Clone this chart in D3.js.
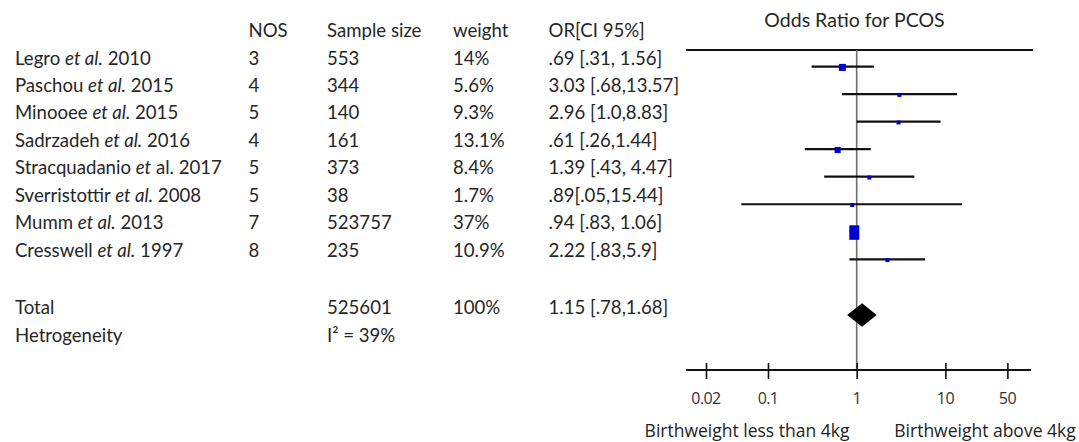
<!DOCTYPE html>
<html><head><meta charset="utf-8">
<script src="https://cdn.jsdelivr.net/npm/d3@7"></script>
<style>
html,body{margin:0;padding:0;background:#fff;}
svg{display:block;}
</style></head>
<body>
<script>
// ---- data ----
const studies = ["Legro _et al._ 2010","Paschou _et al._ 2015","Minooee _et al._ 2015","Sadrzadeh _et al._ 2016","Stracquadanio _et_ al. 2017","Sverristottir _et al._ 2008","Mumm _et al._ 2013","Cresswell _et al._ 1997"];
const nos = [3,4,5,4,5,5,7,8];
const sampleSize = [553,344,140,161,373,38,523757,235];
const weightPct = [14,5.6,9.3,13.1,8.4,1.7,37,10.9];
const weightLabels = ["14%","5.6%","9.3%","13.1%","8.4%","1.7%","37%","10.9%"];
const orValue = [0.69,3.03,2.96,0.61,1.39,0.89,0.94,2.22];
const ciLow = [0.31,0.68,1.0,0.26,0.43,0.05,0.83,0.83];
const ciHigh = [1.56,13.57,8.83,1.44,4.47,15.44,1.06,5.9];
const orLabels = [".69 [.31, 1.56]","3.03 [.68,13.57]","2.96 [1.0,8.83]",".61 [.26,1.44]","1.39 [.43, 4.47]",".89[.05,15.44]",".94 [.83, 1.06]","2.22 [.83,5.9]"];
const headers = ["NOS","Sample size","weight","OR[CI 95%]"];
const totalSample = 525601, totalWeight = "100%";
const totalOR = 1.15, totalLow = 0.78, totalHigh = 1.68;
const totalLabel = "1.15 [.78,1.68]";
const heterogeneity = "I² = 39%";
const tickValues = [0.02,0.1,1,10,50];
const tickLabels = ["0.02","0.1","1","10","50"];
const axisDomain = [0.0119, 92.3];
const plotTitle = "Odds Ratio for PCOS";
const leftLabel = "Birthweight less than 4kg", rightLabel = "Birthweight above 4kg";

// ---- layout ----
const W = 1079, H = 442;
const svg = d3.select("body").append("svg").attr("width", W).attr("height", H);
const textFont = "Lato, 'Open Sans', sans-serif";
const txtColor = "#262626";

const x = d3.scaleLog().domain(axisDomain).range([686, 1031]);
const yText = d3.scaleLinear().domain([0, 7]).range([58, 250]);
const yForest = d3.scaleLinear().domain([0, 7]).range([66.6, 259.3]);
const col = {name: 15, nos: 248.5, n: 327, w: 453, or: 548.5};
const fs = 18.6;

function txt(g, xp, yp, s, opts = {}) {
  return g.append("text").attr("x", xp).attr("y", yp).attr("dy", "0.35em")
    .attr("font-family", opts.font || textFont).attr("font-size", opts.size || fs)
    .attr("fill", opts.fill || txtColor).attr("text-anchor", opts.anchor || "start")
    .attr("letter-spacing", opts.ls || 0).text(s);
}

const table = svg.append("g");
// header
[col.nos, col.n, col.w, col.or].forEach((cx, i) => txt(table, cx, 30, headers[i]));

studies.forEach((s, i) => {
  const t = table.append("text").attr("x", col.name).attr("y", yText(i)).attr("dy", "0.35em")
    .attr("font-family", textFont).attr("font-size", fs).attr("fill", txtColor)
    .attr("xml:space", "preserve");
  s.split("_").forEach((part, k) => {
    if (part.length) t.append("tspan").attr("font-style", k % 2 ? "italic" : "normal").text(part);
  });
  txt(table, col.nos, yText(i), nos[i]);
  txt(table, col.n, yText(i), sampleSize[i]);
  txt(table, col.w, yText(i), weightLabels[i]);
  txt(table, col.or, yText(i), orLabels[i]);
});
const yTot = 307, yHet = 335;
txt(table, col.name, yTot, "Total");
txt(table, col.n, yTot, totalSample);
txt(table, col.w, yTot, totalWeight);
txt(table, col.or, yTot, totalLabel);
txt(table, col.name, yHet, "Hetrogeneity");
txt(table, col.n, yHet, heterogeneity);

// ---- forest ----
const plot = svg.append("g");
const axisY = 370, topY = 50;
txt(plot, 854.5, 20, plotTitle, {anchor: "middle", size: 19.5});

// top border line
plot.append("line").attr("x1", x.range()[0]).attr("x2", 1033).attr("y1", topY).attr("y2", topY)
  .attr("stroke", "#111").attr("stroke-width", 2.2);
// null line
plot.append("line").attr("x1", x(1)).attr("x2", x(1)).attr("y1", topY).attr("y2", axisY)
  .attr("stroke", "#6e6e6e").attr("stroke-width", 1.6);

// CI lines
plot.selectAll("line.ci").data(orValue).join("line").attr("class", "ci")
  .attr("x1", (d, i) => x(ciLow[i])).attr("x2", (d, i) => x(ciHigh[i]))
  .attr("y1", (d, i) => yForest(i)).attr("y2", (d, i) => yForest(i))
  .attr("stroke", "#111").attr("stroke-width", 2.2);

// weight boxes
const boxW = d3.scaleLinear().domain([11, 14, 37]).range([4, 7, 10]).clamp(true);
const boxH = d3.scaleLinear().domain([11, 14, 37]).range([4, 7, 14.5]).clamp(true);
plot.selectAll("rect.box").data(orValue).join("rect").attr("class", "box")
  .attr("x", (d, i) => x(d) - boxW(weightPct[i]) / 2)
  .attr("y", (d, i) => yForest(i) + 0.8 - boxH(weightPct[i]) / 2)
  .attr("width", (d, i) => boxW(weightPct[i]))
  .attr("height", (d, i) => boxH(weightPct[i]))
  .attr("fill", "#0000d4");

// diamond
const yD = 315, dh = 11.7;
plot.append("path")
  .attr("d", `M${x(totalLow)},${yD}L${x(totalOR)},${yD - dh}L${x(totalHigh)},${yD}L${x(totalOR)},${yD + dh}Z`)
  .attr("fill", "#000");

// axis
const axis = d3.axisBottom(x).tickValues(tickValues).tickFormat((d, i) => tickLabels[i]).tickSize(0).tickPadding(0);
const ag = plot.append("g").attr("transform", `translate(0,${axisY})`).call(axis);
ag.select(".domain").remove();
ag.selectAll(".tick text").remove();
ag.append("line").attr("x1", x.range()[0]).attr("x2", x.range()[1]).attr("stroke", "#111").attr("stroke-width", 2.2);
ag.selectAll(".tick line").attr("y1", -7).attr("y2", 9).attr("stroke", "#111").attr("stroke-width", 1.6);
tickValues.forEach((v, i) => txt(plot, x(v), 398, tickLabels[i], {anchor: "middle", size: 16, font: "'Open Sans', sans-serif", fill: "#333", ls: -0.6}));
txt(plot, 747, 431, leftLabel, {anchor: "middle", size: 17.5, font: "'Open Sans', sans-serif", fill: "#222"});
txt(plot, 985, 431, rightLabel, {anchor: "middle", size: 17.5, font: "'Open Sans', sans-serif", fill: "#222"});
</script>
</body></html>
